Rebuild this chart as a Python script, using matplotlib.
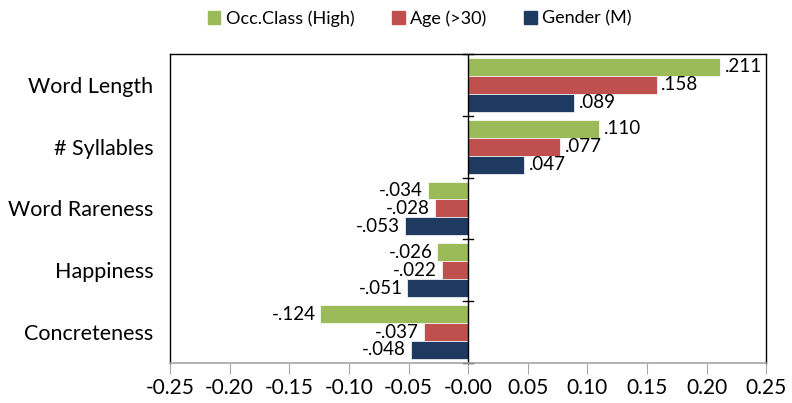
import numpy as np
import matplotlib.pyplot as plt
from matplotlib.patches import Patch

plt.rcParams['font.family'] = ['Lato', 'DejaVu Sans']

categories = ['Word Length', '# Syllables', 'Word Rareness', 'Happiness', 'Concreteness']
series = ['Occ.Class (High)', 'Age (>30)', 'Gender (M)']
occ_class = [0.211, 0.110, -0.034, -0.026, -0.124]
age = [0.158, 0.077, -0.028, -0.022, -0.037]
gender = [0.089, 0.047, -0.053, -0.051, -0.048]
colors = ['#9BBB59', '#C0504D', '#1F3A60']

fig = plt.figure(figsize=(7.92, 4.03), dpi=100)
ax = fig.add_axes([0.2146, 0.0993, 0.753, 0.767])

y = np.arange(len(categories))
h = 0.29
for i, (vals, col) in enumerate(zip([occ_class, age, gender], colors)):
    pos = y + (i - 1) * h
    bars = ax.barh(pos, vals, height=h, color=col, edgecolor='white', linewidth=0.5)
    for b, v in zip(bars, vals):
        txt = ('-' if v < 0 else '') + ('%.3f' % abs(v))[1:]
        ax.text(v + (0.004 if v > 0 else -0.004), b.get_y() + h / 2, txt,
                ha='left' if v > 0 else 'right', va='center', fontsize=13.5)

ax.set_xlim(-0.25, 0.25)
ax.set_ylim(len(categories) - 0.5, -0.5)
ticks = np.arange(-0.25, 0.2501, 0.05)
ax.set_xticks(ticks)
ax.set_xticklabels(['%.2f' % t for t in ticks], fontsize=15)
ax.set_yticks(y)
ax.set_yticklabels(categories, fontsize=15.5)
ax.tick_params(axis='y', length=0, pad=12)
ax.tick_params(axis='x', direction='out', length=8, color='#A6A6A6', pad=3)
for s in ['left', 'top', 'right']:
    ax.spines[s].set_color('black')
    ax.spines[s].set_linewidth(1.0)
ax.spines['bottom'].set_color('#A6A6A6')
ax.spines['bottom'].set_linewidth(1.2)

# zero axis with category boundary ticks
ax.axvline(0, color='black', linewidth=1.0)
for b in np.arange(-0.5, len(categories), 1.0):
    ax.plot([-0.004, 0.004], [b, b], color='black', linewidth=1.0, clip_on=False)

handles = [Patch(color=c) for c in colors]
fig.legend(handles, series, loc='upper center', bbox_to_anchor=(0.53, 1.015), ncol=3,
           frameon=False, fontsize=13, handlelength=0.7, handleheight=0.7,
           handletextpad=0.3, columnspacing=2.1)

fig.savefig('out.png', dpi=100)
